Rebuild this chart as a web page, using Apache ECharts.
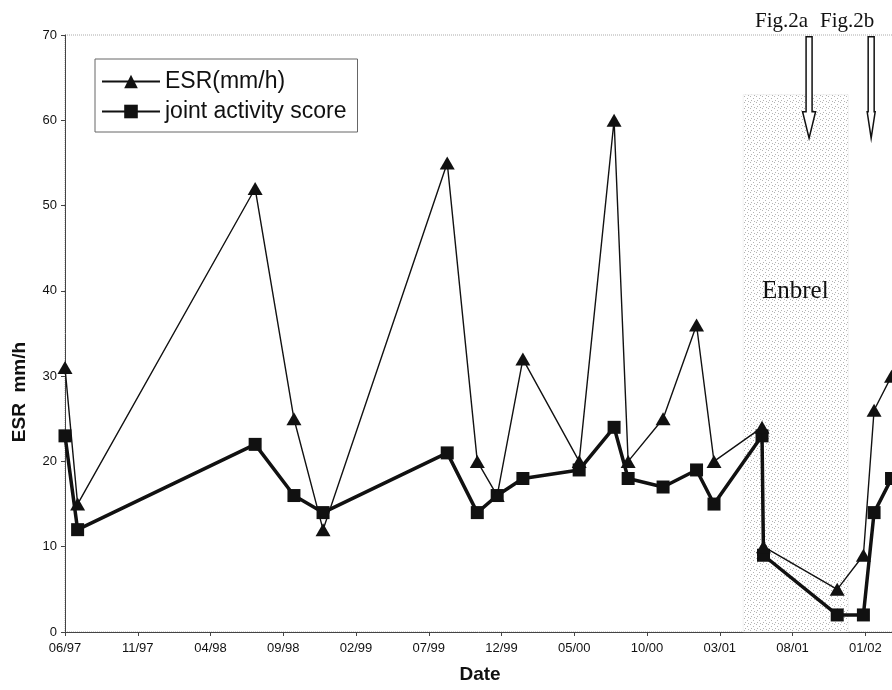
<!DOCTYPE html>
<html><head><meta charset="utf-8">
<script src="https://cdn.jsdelivr.net/npm/echarts@6/dist/echarts.min.js"></script>
<style>html,body{margin:0;padding:0;background:#fff}#c{width:892px;height:690px}</style>
</head><body><div id="c"></div>
<script>
// ---- data ----
const dates = ['1997-06-01','1997-06-27','1998-07-03','1998-09-23','1998-11-23','1999-08-09','1999-10-11','1999-11-22','2000-01-15','2000-05-11','2000-07-23','2000-08-22','2000-11-04','2001-01-13','2001-02-19','2001-05-28','2001-06-01','2001-11-03','2001-12-27','2002-01-19','2002-02-25'];
const esr   = [31,15,52,25,12,55,20,16,32,20,60,20,25,36,20,24,10,5,9,26,30];
const joint = [23,12,22,16,14,21,14,16,18,19,24,18,17,19,15,23,9,2,2,14,18];
const tickLabels = ['06/97','11/97','04/98','09/98','02/99','07/99','12/99','05/00','10/00','03/01','08/01','01/02'];
const enbrelStart = '2001-04-19';
const enbrelEnd = '2001-11-26';
const enbrelTop = 63;
const figMarks = [{name:'Fig.2a', date:'2001-09-05'},{name:'Fig.2b', date:'2002-01-13'}];

function toMonths(s){
  const p = s.split('-').map(Number);
  return (p[0]-1997)*12 + (p[1]-6) + (p[2]-1)/30;
}

// stipple pattern
const pc = document.createElement('canvas');
pc.width = 6; pc.height = 6;
const g = pc.getContext('2d');
g.fillStyle = '#ffffff'; g.fillRect(0,0,6,6);
g.fillStyle = '#b4b4b4';
[[0,0],[3,2],[1,4],[4,5]].forEach(p=>g.fillRect(p[0],p[1],1,1));

const chart = echarts.init(document.getElementById('c'), null, {renderer:'canvas'});
const font = 'Liberation Sans, Arial, sans-serif';
const serif = 'Liberation Serif, Times New Roman, serif';

chart.setOption({
  backgroundColor:'#fff',
  animation:false,
  grid:{left:65, top:35, width:844, height:597, outerBoundsMode:'none', containLabel:false,
        show:true, borderColor:'#aaa', borderType:'dotted', borderWidth:1, backgroundColor:'transparent'},
  legend:{
    data:['ESR(mm/h)','joint activity score'],
    orient:'vertical', left:95, top:59,
    itemWidth:58, itemHeight:17, itemGap:7,
    padding:[11,11,9,6],
    borderColor:'#666', borderWidth:1,
    textStyle:{fontSize:23, fontFamily:font, color:'#111'}
  },
  xAxis:{
    type:'value', min:0, max:58, interval:5,
    name:'Date', nameLocation:'middle', nameGap:33,
    nameTextStyle:{fontSize:19, fontWeight:'bold', fontFamily:font, color:'#111', padding:[0,14,0,0]},
    axisLine:{lineStyle:{color:'#444', width:1}},
    axisTick:{show:true, length:4, lineStyle:{color:'#444'}},
    splitLine:{show:false},
    axisLabel:{fontSize:13, fontFamily:font, color:'#111', margin:10,
      formatter:v=>{const i=Math.round(v/5); return (Math.abs(v-i*5)<1e-6 && tickLabels[i])?tickLabels[i]:'';}}
  },
  yAxis:{
    type:'value', min:0, max:70, interval:10,
    axisLine:{show:true, lineStyle:{color:'#444', width:1}},
    axisTick:{show:true, length:4, lineStyle:{color:'#444'}},
    splitLine:{show:false},
    axisLabel:{fontSize:13, fontFamily:font, color:'#111', margin:8}
  },
  series:[
    {
      name:'ESR(mm/h)', type:'line',
      data:dates.map((d,i)=>[toMonths(d), esr[i]]),
      symbol:'triangle', symbolSize:[15,13],
      lineStyle:{color:'#111', width:1.4},
      itemStyle:{color:'#111'},
      z:4,
      markArea:{
        silent:true,
        itemStyle:{color:{image:pc, repeat:'repeat'}, borderColor:'#ccc', borderWidth:0.5, borderType:'dotted'},
        data:[[{xAxis:toMonths(enbrelStart), yAxis:0},{xAxis:toMonths(enbrelEnd), yAxis:enbrelTop}]]
      }
    },
    {
      name:'joint activity score', type:'line',
      data:dates.map((d,i)=>[toMonths(d), joint[i]]),
      symbol:'rect', symbolSize:13,
      lineStyle:{color:'#111', width:3.5},
      itemStyle:{color:'#111'},
      z:3
    }
  ]
});

// annotations: hollow arrows, labels
const gr = [];
const heads = [6.5, 4];
figMarks.forEach((f,k)=>{
  const top = chart.convertToPixel({xAxisIndex:0,yAxisIndex:0},[toMonths(f.date), 69.8]);
  const headY = chart.convertToPixel({xAxisIndex:0,yAxisIndex:0},[toMonths(f.date), 61])[1];
  const tipY = chart.convertToPixel({xAxisIndex:0,yAxisIndex:0},[toMonths(f.date), 57.9])[1];
  const cx = top[0], hw = heads[k], sw = 3;
  gr.push({type:'polygon', z:10, shape:{points:[[cx-sw,top[1]],[cx+sw,top[1]],[cx+sw,headY],[cx+hw,headY],[cx,tipY],[cx-hw,headY],[cx-sw,headY]]},
    style:{fill:'#fff', stroke:'#111', lineWidth:1.5}});
});
gr.push({type:'text', z:10, left:755, top:11, style:{text:'Fig.2a', font:'21px '+serif, fill:'#111'}});
gr.push({type:'text', z:10, left:820, top:11, style:{text:'Fig.2b', font:'21px '+serif, fill:'#111'}});
gr.push({type:'text', z:10, left:762, top:279, style:{text:'Enbrel', font:'25px '+serif, fill:'#111'}});
gr.push({type:'text', z:10, x:20, y:392, rotation:Math.PI/2,
  style:{text:'ESR  mm/h', font:'bold 19px '+font, fill:'#111', align:'center', verticalAlign:'middle'}});
chart.setOption({graphic:gr});
</script>
</body></html>
